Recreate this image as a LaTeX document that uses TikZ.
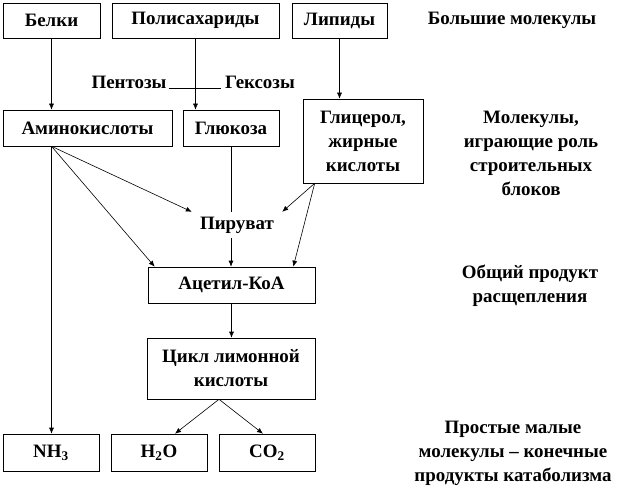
\documentclass[tikz,border=0pt]{standalone}
\usepackage{fontspec}
\setmainfont{Liberation Serif}
\usetikzlibrary{arrows.meta,calc}
\begin{document}
\begin{tikzpicture}[x=1bp,y=-1bp,
  txt/.style={font=\bfseries\fontsize{19}{24}\selectfont, align=center, inner sep=0pt},
  box/.style 2 args={txt, draw, line width=0.6bp, minimum width=#1, minimum height=#2},
  arr/.style={line width=0.6bp, -{Latex[length=6bp,width=5bp]}},
  ln/.style={line width=0.6bp}]
\useasboundingbox (0,0) rectangle (629,497);
% boxes
\node[box={97bp}{35bp}]  (belki)  at (51.5,20.5) {Белки};
\node[box={167bp}{35bp}] (polis)  at (195.5,20.5) {Полисахариды};
\node[box={95bp}{35bp}]  (lipid)  at (339.5,20.5) {Липиды};
\node[box={169bp}{36bp}] (amino)  at (87.5,128) {Аминокислоты};
\node[box={96bp}{36bp}]  (gluc)   at (231,128) {Глюкоза};
\node[box={120bp}{84bp}] (glyc)   at (363,141) {Глицерол,\\жирные\\кислоты};
\node[txt, minimum width=90bp, minimum height=26bp] (pyr) at (237,225) {Пируват};
\node[box={167bp}{36bp}] (acetyl) at (231.5,285) {Ацетил-КоА};
\node[box={168bp}{61bp}] (cycle)  at (231,368.5) {Цикл лимонной\\кислоты};
\node[box={96bp}{37bp}]  (nh3)    at (51,452.5) {NH\textsubscript{3}};
\node[box={96bp}{37bp}]  (h2o)    at (159,452.5) {H\textsubscript{2}O};
\node[box={96bp}{37bp}]  (co2)    at (267,452.5) {CO\textsubscript{2}};
% sugars
\node[txt] (pent) at (129,82) {Пентозы};
\node[txt] (hex)  at (260,82) {Гексозы};
\draw[ln] ($(pent.base east)+(2,0)$) -- ($(hex.base west)+(-4,0)$);
% right labels
\node[txt] (lbig)    at (512,20)    {Большие молекулы};
\node[txt] (lbuild)  at (531,153.5) {Молекулы,\\играющие роль\\строительных\\блоков};
\node[txt] (lcommon) at (530,285.5) {Общий продукт\\расщепления};
\node[txt] (lsimple) at (513,453.5) {Простые малые\\молекулы – конечные\\продукты катаболизма};
% connectors
\coordinate (ao) at (belki.south |- amino.south);
\coordinate (go) at ($(glyc.south west)+(12,0)$);
\draw[arr] (belki.south) -- (belki.south |- amino.north);
\draw[arr] (polis.south) -- (polis.south |- gluc.north);
\draw[arr] (lipid.south) -- (lipid.south |- glyc.north);
\draw[arr] (ao) -- (pyr.north west);
\draw[arr] (ao) -- ($(acetyl.north west)+(7,0)$);
\draw[arr] (ao) -- (ao |- nh3.north);
\draw[ln]  (gluc.south) -- (gluc.south |- pyr.north);
\draw[arr] (gluc.south |- pyr.south) -- (gluc.south |- acetyl.north);
\draw[arr] (go) -- (pyr.north east);
\draw[arr] (go) -- ($(acetyl.north east)+(-22,0)$);
\draw[arr] (acetyl.south) -- (acetyl.south |- cycle.north);
\coordinate (co) at ($(cycle.south)+(-12,0)$);
\draw[arr] (co) -- ($(h2o.north)+(16,0)$);
\draw[arr] (co) -- ($(co2.north)+(-4,0)$);
\end{tikzpicture}
\end{document}
